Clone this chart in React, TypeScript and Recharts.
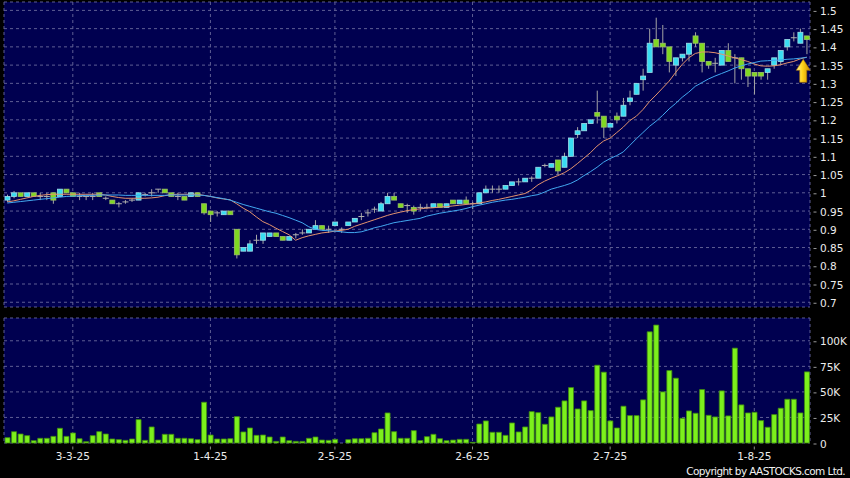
import { ComposedChart, Bar, Line, XAxis, YAxis, CartesianGrid, ReferenceDot } from 'recharts';

// daily OHLC (index 0 = first bar on the left)
const opens = [
  0.98, 0.99, 1.0, 0.99, 1.0, 0.99, 0.99, 1.0, 0.99, 1.01,
  1.0, 0.99, 0.99, 0.99, 1.0, 0.985, 0.98, 0.97, 0.975, 0.98,
  0.98, 0.995, 1.0, 1.01, 1.01, 1.0, 0.99, 0.99, 0.99, 1.0,
  0.97, 0.95, 0.945, 0.94, 0.95, 0.9, 0.84, 0.84, 0.87, 0.87,
  0.88, 0.89, 0.88, 0.87, 0.885, 0.89, 0.89, 0.9, 0.91, 0.9,
  0.91, 0.9, 0.91, 0.92, 0.935, 0.945, 0.955, 0.95, 0.97, 0.99,
  0.97, 0.965, 0.96, 0.96, 0.96, 0.96, 0.97, 0.96, 0.98, 0.97,
  0.98, 0.97, 0.97, 1.0, 1.01, 1.01, 1.01, 1.02, 1.03, 1.03,
  1.04, 1.04, 1.075, 1.07, 1.09, 1.07, 1.1, 1.16, 1.17, 1.19,
  1.22, 1.21, 1.18, 1.21, 1.21, 1.25, 1.27, 1.31, 1.33, 1.42,
  1.41, 1.4, 1.35, 1.37, 1.38, 1.43, 1.41, 1.36, 1.355, 1.35,
  1.39, 1.37, 1.37, 1.34, 1.33, 1.33, 1.33, 1.35, 1.36, 1.4,
  1.425, 1.41, 1.43,
];
const highs = [
  0.995, 1.005, 1.0, 1.0, 1.0, 1.0, 1.0, 1.0, 1.01, 1.01,
  1.0, 1.0, 0.99, 1.0, 1.0, 0.99, 0.98, 0.975, 0.98, 0.985,
  1.0, 1.0, 1.01, 1.01, 1.01, 1.0, 1.0, 0.99, 1.0, 1.0,
  0.97, 0.95, 0.95, 0.95, 0.95, 0.9, 0.85, 0.87, 0.885, 0.89,
  0.89, 0.89, 0.88, 0.88, 0.89, 0.9, 0.9, 0.925, 0.91, 0.91,
  0.92, 0.905, 0.92, 0.93, 0.945, 0.955, 0.962, 0.975, 1.0, 1.0,
  0.97, 0.97, 0.965, 0.97, 0.97, 0.97, 0.97, 0.97, 0.98, 0.98,
  0.99, 0.975, 1.0, 1.02, 1.02, 1.02, 1.02, 1.03, 1.04, 1.04,
  1.045, 1.07, 1.08, 1.08, 1.09, 1.11, 1.15, 1.18, 1.19, 1.2,
  1.28, 1.21, 1.19, 1.22, 1.26, 1.28, 1.3, 1.34, 1.45, 1.48,
  1.46, 1.4, 1.37, 1.38, 1.41, 1.44, 1.41, 1.36, 1.37, 1.39,
  1.41, 1.38, 1.37, 1.34, 1.33, 1.33, 1.34, 1.37, 1.39, 1.42,
  1.44, 1.45, 1.43,
];
const lows = [
  0.975, 0.985, 0.99, 0.99, 0.99, 0.98, 0.98, 0.97, 0.99, 1.0,
  0.99, 0.98, 0.98, 0.98, 0.99, 0.98, 0.97, 0.96, 0.97, 0.975,
  0.98, 0.99, 0.99, 1.0, 1.0, 0.99, 0.98, 0.98, 0.99, 0.99,
  0.94, 0.92, 0.935, 0.94, 0.94, 0.82, 0.84, 0.84, 0.86, 0.86,
  0.88, 0.88, 0.87, 0.87, 0.875, 0.885, 0.89, 0.9, 0.9, 0.89,
  0.91, 0.89, 0.91, 0.92, 0.925, 0.935, 0.945, 0.95, 0.97, 0.98,
  0.96, 0.945, 0.94, 0.95, 0.955, 0.96, 0.96, 0.96, 0.97, 0.97,
  0.97, 0.955, 0.97, 1.0, 1.0, 1.0, 1.01, 1.02, 1.02, 1.03,
  1.03, 1.04, 1.07, 1.07, 1.05, 1.07, 1.1, 1.15, 1.17, 1.19,
  1.19, 1.15, 1.18, 1.19, 1.21, 1.24, 1.27, 1.28, 1.33, 1.4,
  1.38, 1.33, 1.32, 1.36, 1.36, 1.4, 1.33, 1.34, 1.33, 1.35,
  1.36, 1.3, 1.31, 1.29, 1.27, 1.31, 1.31, 1.34, 1.35, 1.39,
  1.415, 1.41, 1.38,
];
const closes = [
  0.99, 1.0, 0.99, 1.0, 0.99, 0.99, 0.99, 0.98, 1.01, 1.0,
  0.99, 0.99, 0.99, 0.99, 0.99, 0.985, 0.97, 0.97, 0.975, 0.98,
  1.0, 0.995, 1.0, 1.01, 1.0, 0.99, 0.99, 0.98, 1.0, 0.99,
  0.945, 0.94, 0.945, 0.95, 0.94, 0.83, 0.85, 0.86, 0.87, 0.89,
  0.89, 0.88, 0.87, 0.88, 0.885, 0.89, 0.9, 0.91, 0.9, 0.9,
  0.92, 0.9, 0.92, 0.93, 0.935, 0.945, 0.955, 0.97, 0.99, 0.98,
  0.96, 0.965, 0.95, 0.96, 0.96, 0.97, 0.96, 0.97, 0.97, 0.98,
  0.97, 0.97, 1.0, 1.01, 1.01, 1.01, 1.02, 1.03, 1.03, 1.04,
  1.04, 1.07, 1.075, 1.08, 1.06, 1.1, 1.15, 1.17, 1.19, 1.2,
  1.21, 1.18, 1.19, 1.2, 1.24, 1.26, 1.3, 1.32, 1.41, 1.4,
  1.4, 1.36, 1.37, 1.38, 1.41, 1.41, 1.36, 1.35, 1.355, 1.39,
  1.36, 1.37, 1.34, 1.32, 1.32, 1.32, 1.34, 1.37, 1.39, 1.42,
  1.425, 1.44, 1.42,
];
// volume in thousands of shares
const volumeK = [
  5.2, 11.1, 8.8, 7.2, 2.3, 4.6, 4.6, 6.5, 14.4, 6.5,
  9.8, 4.2, 1.3, 7.2, 11.1, 8.8, 3.9, 3.3, 2.6, 3.9,
  22.9, 2.6, 15.7, 2.9, 8.5, 8.5, 4.6, 4.6, 4.2, 3.3,
  39.9, 7.8, 3.9, 3.9, 4.2, 25.8, 10.8, 14.7, 7.5, 7.8,
  5.9, 1.6, 5.9, 2.3, 1.6, 1.6, 4.6, 5.9, 2.9, 2.6,
  3.6, 0, 3.3, 4.2, 4.2, 4.6, 10.1, 13.7, 29.4, 11.1,
  4.6, 4.6, 12.1, 2.4, 6.2, 8.5, 4.2, 2.3, 2.9, 3.6,
  3.6, 0.7, 18.6, 21.6, 10.5, 10.5, 7.5, 19.6, 10.8, 15.7,
  30.7, 29.7, 18.3, 25.5, 35.0, 41.2, 54.2, 33.3, 41.2, 31.7,
  76.1, 69.3, 21.6, 14.7, 36.0, 26.8, 26.8, 42.2, 108.8, 115.4,
  50.0, 70.9, 63.4, 24.2, 31.4, 29.1, 52.3, 27.1, 25.5, 51.0,
  26.5, 92.8, 37.3, 29.4, 30.1, 21.9, 15.4, 27.8, 34.0, 42.8,
  42.8, 29.4, 69.6,
];
// moving averages as drawn (short = orange, long = blue)
const maShort = [
  0.975, 0.978, 0.982, 0.986, 0.99, 0.993, 0.995, 0.996, 0.996, 0.996,
  0.996, 0.996, 0.996, 0.996, 0.996, 0.994, 0.99, 0.987, 0.985, 0.985,
  0.985, 0.985, 0.986, 0.988, 0.992, 0.995, 0.996, 0.996, 0.996, 0.996,
  0.993, 0.99, 0.986, 0.983, 0.981, 0.97, 0.958, 0.948, 0.934, 0.921,
  0.913, 0.903, 0.894, 0.885, 0.87, 0.877, 0.882, 0.886, 0.89, 0.892,
  0.895, 0.897, 0.9, 0.908, 0.914, 0.92, 0.926, 0.932, 0.938, 0.943,
  0.947, 0.951, 0.954, 0.956, 0.958, 0.959, 0.961, 0.962, 0.964, 0.966,
  0.968, 0.97, 0.972, 0.975, 0.979, 0.982, 0.986, 0.99, 0.994, 0.998,
  1.008, 1.022, 1.032, 1.04, 1.047, 1.055, 1.066, 1.08, 1.095, 1.11,
  1.128, 1.142, 1.15, 1.165, 1.18, 1.198, 1.21, 1.228, 1.25, 1.268,
  1.287, 1.306, 1.33, 1.352, 1.37, 1.382, 1.386, 1.386, 1.384, 1.38,
  1.375, 1.37, 1.365, 1.36, 1.353, 1.348, 1.347, 1.348, 1.351, 1.356,
  1.36, 1.367, 1.372,
];
const maLong = [
  0.972, 0.974, 0.976, 0.978, 0.98, 0.982, 0.984, 0.986, 0.988, 0.99,
  0.991, 0.992, 0.993, 0.993, 0.994, 0.994, 0.994, 0.994, 0.993, 0.993,
  0.993, 0.993, 0.993, 0.993, 0.993, 0.994, 0.994, 0.994, 0.994, 0.994,
  0.993, 0.99, 0.987, 0.984, 0.98, 0.974, 0.968, 0.963, 0.958, 0.953,
  0.948, 0.944, 0.938, 0.932, 0.925, 0.918, 0.907, 0.9, 0.897, 0.896,
  0.895, 0.893, 0.891, 0.891, 0.893, 0.898, 0.904, 0.908, 0.913, 0.918,
  0.921, 0.924, 0.927, 0.93, 0.936, 0.94, 0.944, 0.947, 0.95, 0.953,
  0.957, 0.962, 0.966, 0.97, 0.974, 0.977, 0.98, 0.982, 0.985, 0.988,
  0.992, 0.995, 1.002, 1.01, 1.015, 1.02, 1.026, 1.035, 1.047, 1.058,
  1.07, 1.084, 1.094, 1.102, 1.112, 1.13, 1.148, 1.165, 1.182, 1.196,
  1.212, 1.23, 1.245, 1.262, 1.276, 1.292, 1.302, 1.312, 1.32, 1.327,
  1.334, 1.342, 1.348, 1.353, 1.357, 1.361, 1.362, 1.363, 1.364, 1.366,
  1.367, 1.369, 1.371,
];

const dateTicks = [10, 31, 50, 71, 92, 114];
const dateLabels = ['3-3-25', '1-4-25', '2-5-25', '2-6-25', '2-7-25', '1-8-25'];
const priceTicks = [0.7, 0.75, 0.8, 0.85, 0.9, 0.95, 1, 1.05, 1.1, 1.15, 1.2, 1.25, 1.3, 1.35, 1.4, 1.45, 1.5];
const volumeTicks = [0, 25, 50, 75, 100];
const arrowPrice = 1.366;

const rows = opens.map((o, i) => ({
  idx: i,
  open: o,
  high: highs[i],
  low: lows[i],
  close: closes[i],
  range: [lows[i], highs[i]],
  vol: volumeK[i],
  maShort: maShort[i],
  maLong: maLong[i],
}));

const FONT = 'DejaVu Sans';
const NAVY = '#000050';
const GRID = '#5e5e94';
const TXT = '#ececec';

function Candle(props: any) {
  const { x, y, width, height, payload } = props;
  const top = Math.min(y, y + height);
  const h = Math.abs(height);
  const { open, close, high, low } = payload;
  const py = (v: number) => (high === low ? top : top + ((high - v) / (high - low)) * h);
  const cx = x + width / 2;
  const wick = <line x1={cx} x2={cx} y1={py(high)} y2={py(low)} stroke="#a4a4a4" strokeWidth={1} />;
  if (open === close) {
    return (
      <g>
        {wick}
        <line x1={x - 0.5} x2={x + width + 0.5} y1={py(open)} y2={py(open)} stroke="#b0b0b0" strokeWidth={1} />
      </g>
    );
  }
  const up = close > open;
  const bt = py(Math.max(open, close));
  const bb = py(Math.min(open, close));
  return (
    <g>
      {wick}
      <rect
        x={x}
        y={bt}
        width={width}
        height={Math.max(bb - bt, 1)}
        fill={up ? '#38dcf2' : '#80d822'}
        stroke={up ? '#9fdde8' : '#9cbf6a'}
        strokeWidth={0.8}
      />
    </g>
  );
}

function Arrow(props: any) {
  const { cx, cy } = props;
  const ax = cx - 3.5;
  const pts = [
    [ax, cy],
    [ax + 7, cy + 11],
    [ax + 3.5, cy + 11],
    [ax + 3.5, cy + 23],
    [ax - 3.5, cy + 23],
    [ax - 3.5, cy + 11],
    [ax - 7, cy + 11],
  ]
    .map((p) => p.join(','))
    .join(' ');
  return (
    <g>
      <defs>
        <linearGradient id="arrowFill" x1="0" y1="0" x2="1" y2="0">
          <stop offset="0%" stopColor="#fff6a0" />
          <stop offset="45%" stopColor="#ffd21a" />
          <stop offset="100%" stopColor="#c98a00" />
        </linearGradient>
      </defs>
      <polygon points={pts} fill="url(#arrowFill)" stroke="#b07800" strokeWidth={0.6} />
    </g>
  );
}

function RightTick(props: any) {
  const { x, y, payload, fmt } = props;
  return (
    <g>
      <line x1={x + 3.5} x2={x + 6.5} y1={y + 1} y2={y + 1} stroke="#9a9a9a" strokeWidth={1} />
      <text x={x + 10} y={y + 4.5} fill={TXT} fontSize={10.5} fontFamily={FONT} textAnchor="start">
        {fmt(payload.value)}
      </text>
    </g>
  );
}

function DateTick(props: any) {
  const { x, y, payload } = props;
  const k = dateTicks.indexOf(payload.value);
  return (
    <g>
      <line x1={x} x2={x} y1={y + 3.5} y2={y + 6.5} stroke="#8a8a8a" strokeWidth={1} />
      <text x={x} y={y + 16.5} fill={TXT} fontSize={10.5} fontFamily={FONT} textAnchor="middle">
        {k >= 0 ? dateLabels[k] : ''}
      </text>
    </g>
  );
}

export default function App() {
  return (
    <div style={{ position: 'relative', width: 850, height: 478, background: '#000', overflow: 'hidden' }}>
      <style>{'body{margin:0;background:#000}'}</style>
      <ComposedChart width={850} height={309} data={rows} margin={{ top: 2, right: 0, bottom: 2, left: 4 }}>
        <CartesianGrid fill={NAVY} stroke={GRID} strokeDasharray="3 3" />
        <XAxis dataKey="idx" hide ticks={dateTicks} />
        <YAxis
          orientation="right"
          width={40}
          domain={[0.687, 1.523]}
          ticks={priceTicks}
          axisLine={false}
          tickLine={false}
          tickSize={0}
          tickMargin={0}
          interval={0}
          tick={<RightTick fmt={(v: number) => String(v)} />}
        />
        <Bar dataKey="range" barSize={5} shape={(p: any) => <Candle {...p} />} isAnimationActive={false} />
        <Line dataKey="maShort" stroke="#e3936e" strokeWidth={1} dot={false} activeDot={false} isAnimationActive={false} />
        <Line dataKey="maLong" stroke="#42a8f0" strokeWidth={1} dot={false} activeDot={false} isAnimationActive={false} />
        <ReferenceDot x={122} y={arrowPrice} shape={(p: any) => <Arrow {...p} />} />
      </ComposedChart>
      <ComposedChart width={850} height={169} data={rows} margin={{ top: 9, right: 0, bottom: 5, left: 4 }}>
        <CartesianGrid fill={NAVY} stroke={GRID} strokeDasharray="3 3" />
        <XAxis
          dataKey="idx"
          ticks={dateTicks}
          interval={0}
          height={30}
          axisLine={false}
          tickLine={false}
          tickSize={0}
          tickMargin={0}
          tick={<DateTick />}
        />
        <YAxis
          orientation="right"
          width={40}
          domain={[0, 122.3]}
          ticks={volumeTicks}
          axisLine={false}
          tickLine={false}
          tickSize={0}
          tickMargin={0}
          interval={0}
          tick={<RightTick fmt={(v: number) => (v === 0 ? '0' : v + 'K')} />}
        />
        <Bar dataKey="vol" barSize={5} fill="#7cf01c" stroke="#3f8a10" strokeWidth={0.8} isAnimationActive={false} />
      </ComposedChart>
      <div
        style={{
          position: 'absolute',
          right: 5,
          top: 465,
          color: '#f2f2f2',
          fontFamily: FONT,
          fontSize: 10.5,
          lineHeight: '12px',
          letterSpacing: -0.6,
          whiteSpace: 'nowrap',
        }}
      >
        Copyright by AASTOCKS.com Ltd.
      </div>
    </div>
  );
}
